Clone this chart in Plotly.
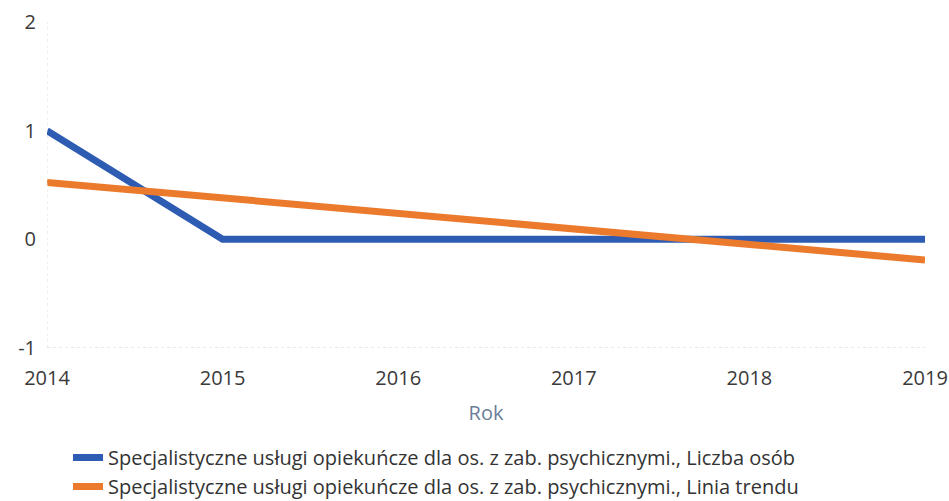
import plotly.graph_objects as go

years = [2014, 2015, 2016, 2017, 2018, 2019]
liczba_osob = [1, 0, 0, 0, 0, 0]
linia_trendu = [0.524, 0.381, 0.238, 0.095, -0.048, -0.190]
series_names = [
    "Specjalistyczne usługi opiekuńcze dla os. z zab. psychicznymi., Liczba osób",
    "Specjalistyczne usługi opiekuńcze dla os. z zab. psychicznymi., Linia trendu",
]
y_ticks = [-1, 0, 1, 2]
y_tick_text = ["-1", "0", "1", "2"]

W, H = 949, 501
L, R, T, B = 47, 24, 22, 153
plot_w = W - L - R

fig = go.Figure()
fig.add_trace(go.Scatter(x=years, y=liczba_osob, mode="lines", name=series_names[0],
                         line=dict(color="#2e5cb3", width=7)))
fig.add_trace(go.Scatter(x=years, y=linia_trendu, mode="lines", name=series_names[1],
                         line=dict(color="#ec7a2c", width=7)))

fig.update_layout(
    width=W, height=H,
    margin=dict(l=L, r=R, t=T, b=B, autoexpand=False),
    paper_bgcolor="white", plot_bgcolor="white",
    font=dict(family="Open Sans, Noto Sans, sans-serif", size=20, color="#3a3a3a"),
    showlegend=True,
    legend=dict(orientation="v", x=(68 - L) / plot_w, xanchor="left",
                yref="container", y=1 - 438 / H, yanchor="top",
                font=dict(size=20, color="#333333"), tracegroupgap=0,
                itemwidth=30, bgcolor="rgba(0,0,0,0)"),
    xaxis=dict(
        range=[2014, 2019], tickvals=years, ticktext=[str(y) for y in years],
        showgrid=False, zeroline=False, automargin=False,
        showline=False, ticks="", ticklabelstandoff=16,
        title=dict(text="Rok", font=dict(size=20, color="#6a7d99"), standoff=15),
        tickfont=dict(size=20, color="#3a3a3a"),
    ),
    yaxis=dict(
        range=[-1, 2], tickvals=y_ticks, ticktext=y_tick_text,
        showgrid=False, zeroline=False, automargin=False,
        showline=False, ticks="", ticklabelstandoff=10,
        tickfont=dict(size=20, color="#3a3a3a"),
    ),
    shapes=[
        dict(type="line", xref="x", yref="y", x0=2014, x1=2019, y0=-1, y1=-1,
             line=dict(color="#d0d0d0", width=1, dash="dot")),
        dict(type="line", xref="x", yref="y", x0=2014, x1=2014, y0=-1, y1=2,
             line=dict(color="#e0e0e0", width=1, dash="dot")),
    ],
)

fig.write_html("out.html",
               config={"displayModeBar": False},
               post_script="document.body.style.margin='0';document.body.style.overflow='hidden';")
